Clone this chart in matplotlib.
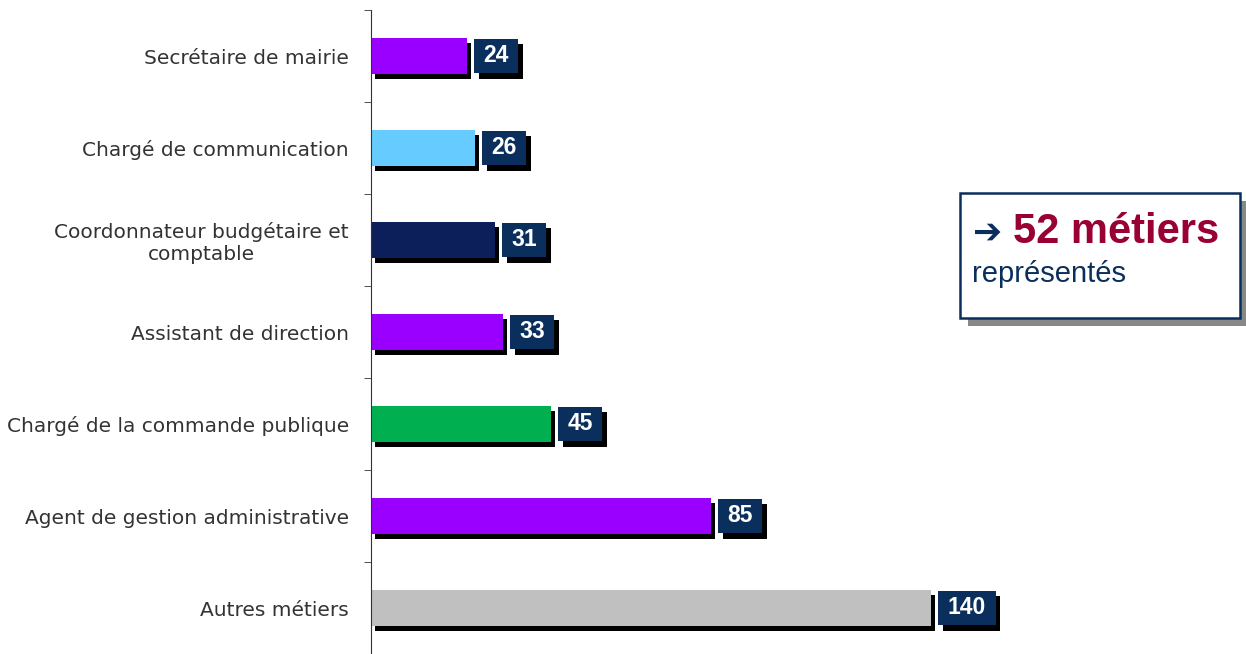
import matplotlib.pyplot as plt
import matplotlib.patheffects as pe
from matplotlib.patches import Rectangle

# Data
categories = ['Secrétaire de mairie', 'Chargé de communication',
              'Coordonnateur budgétaire et\ncomptable', 'Assistant de direction',
              'Chargé de la commande publique', 'Agent de gestion administrative',
              'Autres métiers']
values = [24, 26, 31, 33, 45, 85, 140]
colors = ['#9900FF', '#66CCFF', '#0D1F5B', '#9900FF', '#00B050', '#9900FF', '#C0C0C0']

navy = '#0B2F5C'
px = 4.0  # pixels per unit on the x axis


def shadow(dx, dy):
    return [pe.SimplePatchShadow(offset=(dx, dy), shadow_rgbFace='black', alpha=1.0), pe.Normal()]


fig = plt.figure(figsize=(12.46, 6.54), dpi=100)
ax = fig.add_axes([371 / 1246, 0.0, 875 / 1246, 644 / 654])

pos = list(range(len(categories)))
bars = ax.barh(pos, values, height=0.39, color=colors)
for b in bars:
    b.set_path_effects(shadow(3, -3.5))

# value boxes with shadow
for p, v in zip(pos, values):
    label = str(v)
    w = (17 + 13.5 * len(label)) / px
    x0 = v + 7 / px
    box = Rectangle((x0, p - 0.19), w, 0.38, fc=navy, ec='none', zorder=3)
    box.set_path_effects(shadow(3.5, -4))
    ax.add_patch(box)
    ax.text(x0 + w / 2, p, label, ha='center', va='center', color='white',
            fontsize=16.5, fontweight='bold', family='Liberation Sans', zorder=4)

ax.set_xlim(0, 875 / px)
ax.set_ylim(len(categories) - 0.5, -0.5)
ax.set_yticks(pos)
ax.set_yticklabels(categories, fontsize=14.5, color='#333333', family='DejaVu Sans')
for lbl in ax.get_yticklabels():
    lbl.set_multialignment('center')
ax.tick_params(axis='y', which='major', length=0, pad=16)
ax.set_yticks([i - 0.5 for i in range(len(categories) + 1)], minor=True)
ax.tick_params(axis='y', which='minor', length=5, direction='out', color='#333333')
ax.set_xticks([])
for s in ['top', 'right', 'bottom']:
    ax.spines[s].set_visible(False)
ax.spines['left'].set_color('#333333')

# summary box
bx, by, bw, bh = 960 / 1246, (654 - 318) / 654, 280 / 1246, 125 / 654
fig.patches.append(Rectangle((bx + 8 / 1246, by - 8 / 654), bw, bh, transform=fig.transFigure,
                             fc='#888888', ec='none', zorder=1))
fig.patches.append(Rectangle((bx, by), bw, bh, transform=fig.transFigure,
                             fc='white', ec=navy, lw=1.8, zorder=2))
fig.text(972 / 1246, (654 - 233) / 654, '➔', color=navy, fontsize=25, fontweight='bold',
         family='DejaVu Sans', va='center', ha='left', zorder=3)
fig.text(1013 / 1246, (654 - 232) / 654, '52 métiers', color='#990033', fontsize=30,
         fontweight='bold', family='Liberation Sans', va='center', ha='left', zorder=3)
fig.text(972 / 1246, (654 - 274) / 654, 'représentés', color=navy, fontsize=21,
         family='Liberation Sans', va='center', ha='left', zorder=3)

fig.savefig('out.png', dpi=100)
